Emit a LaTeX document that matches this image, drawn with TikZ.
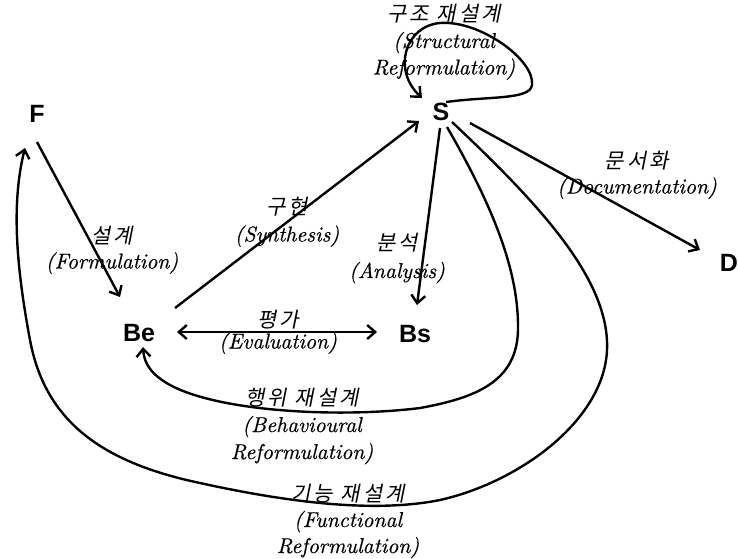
\documentclass[tikz,border=0pt]{standalone}
\usepackage{fontspec}
\newfontfamily\kr[FakeSlant=0.2,LetterSpace=15]{Noto Sans CJK KR}
\newfontfamily\vfont{Liberation Sans}
\newfontfamily\lat[FakeBold=0.5]{lmroman10-italic.otf}
\usetikzlibrary{arrows.meta,calc}
\newcommand{\ko}[1]{{\kr\fontsize{21}{26}\selectfont #1}}
\begin{document}
\begin{tikzpicture}[x=1pt,y=-1pt,
  lbl/.style={align=center, inner sep=0pt},
  vtx/.style={font=\vfont\bfseries\fontsize{25}{25}\selectfont, inner sep=1pt},
  conn/.style={line width=2.4pt, -{Straight Barb[length=8pt,width=14pt]}},
  both/.style={line width=2.4pt, {Straight Barb[length=8pt,width=14pt]}-{Straight Barb[length=8pt,width=14pt]}}]
\useasboundingbox (0,0) rectangle (738,558);

\node[vtx] (F) at (37,114) {F};
\node[vtx] (S) at (441,112) {S};
\node[vtx] (D) at (729,263) {D};
\node[vtx] (Be) at (139,333) {Be};
\node[vtx] (Bs) at (415,334) {Bs};

% straight connectors
\draw[conn] ($(F)+(0,28)$) -- ($(Be)+(-19,-36)$);
\draw[conn] ($(Be)+(36,-25)$) -- ($(S)+(-22,9)$);
\draw[both] ($(Be)+(38,-1)$) -- ($(Bs)+(-38,-2)$);
\draw[conn] ($(S)+(-1,16)$) -- ($(Bs)+(2,-29)$);
\draw[conn] ($(S)+(29,11)$) -- ($(D)+(-29,-13)$);

% self loop on S
\draw[conn] ($(S)+(5,-10)$) .. controls (490,96) and (530,100) .. (532,85)
  .. controls (535,60) and (480,20) .. (440,23)
  .. controls (405,26) and (392,70) .. ($(S)+(-19,-14)$);

% behavioural reformulation
\draw[conn] ($(S)+(6,15)$) .. controls (492,205) and (519,270) .. (518,330)
  .. controls (517,382) and (475,398) .. (420,408)
  .. controls (340,418) and (220,412) .. (170,385)
  .. controls (152,375) and (144,364) .. ($(Be)+(4,14)$);

% functional reformulation
\draw[conn] ($(S)+(11,10)$) .. controls (540,205) and (610,280) .. (607,350)
  .. controls (604,420) and (520,482) .. (440,500)
  .. controls (380,512) and (300,505) .. (200,483)
  .. controls (100,462) and (45,420) .. (30,340)
  .. controls (15,260) and (12,200) .. ($(F)+(-12,34)$);

% labels
\node[lbl, font=\lat\fontsize{21.5}{26.5}\selectfont] (lstr) at (444,42) {\ko{구조 재설계}\\(Structural\\Reformulation)};
\node[lbl, font=\lat\fontsize{21.5}{25}\selectfont] (lfor) at (112,250) {\ko{설계}\\(Formulation)};
\node[lbl, font=\lat\fontsize{21.5}{27}\selectfont] (lsyn) at (287,222) {\ko{구현}\\(Synthesis)};
\node[lbl, font=\lat\fontsize{21.5}{28}\selectfont] (lana) at (397,258) {\ko{분석}\\(Analysis)};
\node[lbl, font=\lat\fontsize{21.5}{21}\selectfont] (leva) at (278,332) {\ko{평가}\\(Evaluation)};
\node[lbl, font=\lat\fontsize{21.5}{25}\selectfont] (ldoc) at (637,175) {\ko{문서화}\\(Documentation)};
\node[lbl, font=\lat\fontsize{21.5}{27}\selectfont] (lbeh) at (302,426) {\ko{행위 재설계}\\(Behavioural\\Reformulation)};
\node[lbl, font=\lat\fontsize{21.5}{26}\selectfont] (lfun) at (348,521) {\ko{기능 재설계}\\(Functional\\Reformulation)};
\end{tikzpicture}
\end{document}
